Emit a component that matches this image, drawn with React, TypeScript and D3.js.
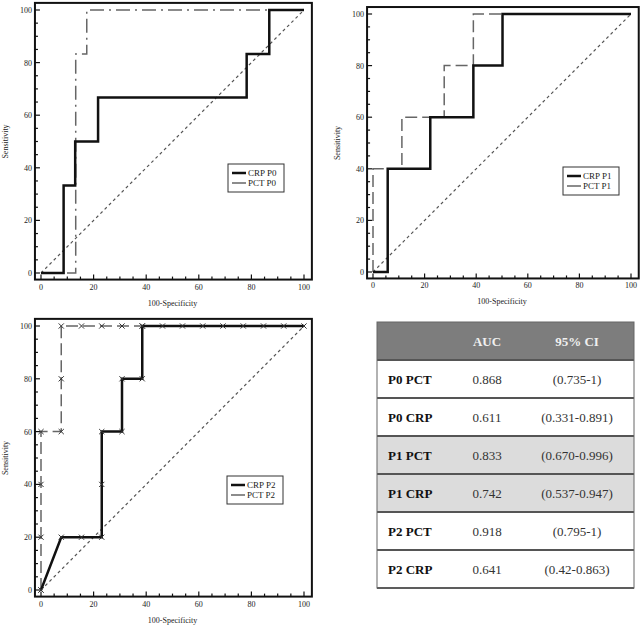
import React from 'react'
import * as d3 from 'd3'

// ROC curves (x = 100-specificity, y = sensitivity)
const CRP_P0_X = [0, 8.6, 8.6, 13, 13, 21.7, 21.7, 78.2, 78.2, 86.8, 86.8, 100]
const CRP_P0_Y = [0, 0, 33.3, 33.3, 50, 50, 66.7, 66.7, 83.3, 83.3, 100, 100]
const PCT_P0_X = [0, 13.2, 13.2, 17.4, 17.4, 100]
const PCT_P0_Y = [0, 0, 83.3, 83.3, 100, 100]

const CRP_P1_X = [0, 5.7, 5.7, 22.2, 22.2, 38.9, 38.9, 50.2, 50.2, 100]
const CRP_P1_Y = [0, 0, 40, 40, 60, 60, 80, 80, 100, 100]
const PCT_P1_X = [0, 0, 11.2, 11.2, 27.6, 27.6, 38.9, 38.9, 100]
const PCT_P1_Y = [0, 40, 40, 60, 60, 80, 80, 100, 100]

const CRP_P2_X = [0, 7.7, 15.4, 23.1, 23.1, 23.1, 30.8, 30.8, 38.5, 38.5, 46.2, 53.8, 61.5, 69.2, 76.9, 84.6, 92.3, 100]
const CRP_P2_Y = [0, 20, 20, 20, 40, 60, 60, 80, 80, 100, 100, 100, 100, 100, 100, 100, 100, 100]
const PCT_P2_X = [0, 0, 0, 0, 7.7, 7.7, 7.7, 15.4, 23.1, 30.8, 38.5]
const PCT_P2_Y = [0, 20, 40, 60, 60, 80, 100, 100, 100, 100, 100]

const TICKS = [0, 20, 40, 60, 80, 100]
const MINOR = d3.range(0, 101, 5)

// table
const ROW_LABELS = ['P0 PCT', 'P0 CRP', 'P1 PCT', 'P1 CRP', 'P2 PCT', 'P2 CRP']
const AUC = ['0.868', '0.611', '0.833', '0.742', '0.918', '0.641']
const CI = ['(0.735-1)', '(0.331-0.891)', '(0.670-0.996)', '(0.537-0.947)', '(0.795-1)', '(0.42-0.863)']
const SHADED = ['P1 PCT', 'P1 CRP']

const FONT = '"Liberation Serif", "Times New Roman", serif'

type Pt = [number, number]
const zip = (xs: number[], ys: number[]): Pt[] => xs.map((x, i) => [x, ys[i]])

function RocPanel({ px, py, crp, pct, crpName, pctName, pctDash, markers, legend }: any) {
  const x = d3.scaleLinear().domain([0, 100]).range(px)
  const y = d3.scaleLinear().domain([0, 100]).range(py)
  const left = x(-2.3), right = x(103), top = y(102.7), bottom = y(-2.5)
  const line = d3.line<Pt>().x(d => x(d[0])).y(d => y(d[1]))
  const cross = (d: Pt, i: number) => {
    const cx = x(d[0]), cy = y(d[1]), s = 2.6
    return <path key={i} d={`M${cx - s},${cy - s}L${cx + s},${cy + s}M${cx - s},${cy + s}L${cx + s},${cy - s}`} stroke="#333" strokeWidth={1} />
  }
  const [lx, ly] = legend
  return (
    <g fontFamily={FONT}>
      <line x1={x(0)} y1={y(0)} x2={x(100)} y2={y(100)} stroke="#555" strokeWidth={1.2} strokeDasharray="3,3" />
      <path d={line(pct) || ''} fill="none" stroke="#666" strokeWidth={1.5} strokeDasharray={pctDash} />
      <path d={line(crp) || ''} fill="none" stroke="#111" strokeWidth={2.5} />
      {markers && pct.map(cross)}
      {markers && crp.map(cross)}
      <rect x={left} y={top} width={right - left} height={bottom - top} fill="none" stroke="#111" strokeWidth={2} />
      {MINOR.map(v => {
        const len = v % 20 === 0 ? 5 : 3
        return (
          <g key={v}>
            <line x1={x(v)} x2={x(v)} y1={bottom} y2={bottom - len} stroke="#111" strokeWidth={1.2} />
            <line x1={left} x2={left + len} y1={y(v)} y2={y(v)} stroke="#111" strokeWidth={1.2} />
          </g>
        )
      })}
      {TICKS.map(v => (
        <g key={v} fontSize={8} fill="#222">
          <text x={x(v)} y={bottom + 10} textAnchor="middle">{v}</text>
          <text x={left - 3} y={y(v) + 3} textAnchor="end">{v}</text>
        </g>
      ))}
      <text x={(x(0) + x(100)) / 2} y={bottom + 26} textAnchor="middle" fontSize={8} fill="#222">100-Specificity</text>
      <text transform={`translate(${left - 27},${(y(0) + y(100)) / 2}) rotate(-90)`} textAnchor="middle" fontSize={8} fill="#222">Sensitivity</text>
      <rect x={lx} y={ly} width={56} height={28} fill="#fff" stroke="#333" strokeWidth={1} />
      <line x1={lx + 4} x2={lx + 18} y1={ly + 9} y2={ly + 9} stroke="#111" strokeWidth={2.5} />
      <line x1={lx + 4} x2={lx + 18} y1={ly + 19} y2={ly + 19} stroke="#666" strokeWidth={1.5} />
      <text x={lx + 20} y={ly + 12} fontSize={9} fill="#222">{crpName}</text>
      <text x={lx + 20} y={ly + 22} fontSize={9} fill="#222">{pctName}</text>
    </g>
  )
}

function AucTable() {
  const left = 377, right = 634
  const rowY = d3.scaleBand().domain(['head', ...ROW_LABELS]).range([322, 588])
  const bw = rowY.bandwidth()
  return (
    <g fontFamily={FONT} fontSize={13}>
      <rect x={left} y={rowY('head')} width={right - left} height={bw} fill="#7d7d7d" />
      {ROW_LABELS.map((r, i) => {
        const y0 = rowY(r) as number
        return (
          <g key={r}>
            <rect x={left} y={y0} width={right - left} height={bw} fill={SHADED.includes(r) ? '#dcdcdc' : '#fff'} />
            <text x={388} y={y0 + bw / 2 + 4.5} fontWeight="bold" fill="#111">{r}</text>
            <text x={487} y={y0 + bw / 2 + 4.5} textAnchor="middle" fill="#333">{AUC[i]}</text>
            <text x={577} y={y0 + bw / 2 + 4.5} textAnchor="middle" fill="#333">{CI[i]}</text>
          </g>
        )
      })}
      <text x={487} y={(rowY('head') as number) + bw / 2 + 4.5} textAnchor="middle" fontWeight="bold" fill="#f0f0f0">AUC</text>
      <text x={577} y={(rowY('head') as number) + bw / 2 + 4.5} textAnchor="middle" fontWeight="bold" fill="#f0f0f0">95% CI</text>
      {['head', ...ROW_LABELS].map(r => (
        <line key={r} x1={left} x2={right} y1={(rowY(r) as number) + bw} y2={(rowY(r) as number) + bw} stroke="#555" strokeWidth={1.8} />
      ))}
      <rect x={left} y={322} width={right - left} height={266} fill="none" stroke="#666" strokeWidth={1} />
    </g>
  )
}

export default function App() {
  return (
    <svg width={641} height={626} style={{ position: 'absolute', left: 0, top: 0, background: '#fff' }}>
      <RocPanel px={[41, 304]} py={[273, 10]} crp={zip(CRP_P0_X, CRP_P0_Y)} pct={zip(PCT_P0_X, PCT_P0_Y)}
        crpName="CRP P0" pctName="PCT P0" pctDash="14,5,2,5" legend={[228, 164]} />
      <RocPanel px={[373, 631]} py={[272, 14]} crp={zip(CRP_P1_X, CRP_P1_Y)} pct={zip(PCT_P1_X, PCT_P1_Y)}
        crpName="CRP P1" pctName="PCT P1" pctDash="12,5" legend={[563, 167]} />
      <RocPanel px={[41, 304]} py={[590, 326]} crp={zip(CRP_P2_X, CRP_P2_Y)} pct={zip(PCT_P2_X, PCT_P2_Y)}
        crpName="CRP P2" pctName="PCT P2" pctDash="12,5" markers legend={[227, 476]} />
      <AucTable />
    </svg>
  )
}
